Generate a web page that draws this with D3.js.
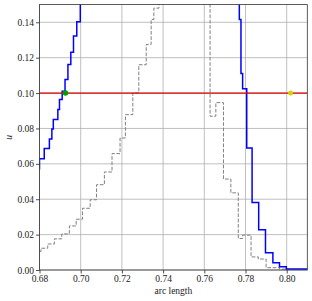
<!DOCTYPE html>
<html>
<head>
<meta charset="utf-8">
<script src="https://cdn.jsdelivr.net/npm/d3@7"></script>
<style>
  body { margin: 0; background: #fff; }
  text { font-family: "Liberation Serif", "DejaVu Serif", serif; }
</style>
</head>
<body>
<div id="chart"></div>
<script>
var width = 312, height = 301;
var plotLeft = 39.5, plotRight = 307.3, plotTop = 4.6, plotBottom = 270;

// step curves: jump position (arc length) and level after the jump
var blueArc = [0.6798, 0.6800, 0.6823, 0.6848, 0.6860, 0.6867, 0.6889, 0.6897, 0.6910, 0.6924, 0.6938, 0.6952, 0.6965, 0.6981, 0.6998,
               0.7770, 0.7778, 0.7786, 0.7806, 0.7832, 0.7864, 0.7897, 0.7933, 0.7965, 0.7998, 0.8110];
var blueU   = [0.0572, 0.0629, 0.0686, 0.0740, 0.0797, 0.0850, 0.0907, 0.0963, 0.1010, 0.1076, 0.1161, 0.1231, 0.1322, 0.1403, 0.1700,
               0.1416, 0.1110, 0.1024, 0.0690, 0.0381, 0.0227, 0.0098, 0.0041, 0.0019, 0.0006, 0.0006];

var grayArc = [0.6800, 0.6807, 0.6840, 0.6872, 0.6908, 0.6945, 0.6978, 0.7009, 0.7046, 0.7077, 0.7115, 0.7152, 0.7191, 0.7217, 0.7253,
               0.7282, 0.7318, 0.7342, 0.7355, 0.7380, 0.7628, 0.7656, 0.7693, 0.7729, 0.7765, 0.7786, 0.7827, 0.7862, 0.7900, 0.7965, 0.8000, 0.8110];
var grayU   = [0.0104, 0.0123, 0.0147, 0.0176, 0.0204, 0.0249, 0.0287, 0.0349, 0.0397, 0.0482, 0.0554, 0.0658, 0.0746, 0.0878, 0.1001,
               0.1160, 0.1275, 0.1416, 0.1480, 0.1700, 0.0869, 0.0946, 0.0514, 0.0436, 0.0178, 0.0197, 0.0074, 0.0062, 0.0013, 0.0005, 0.0000, 0.0000];

var level = 0.10;
var greenPt = [0.6926, 0.10];
var yellowPt = [0.8019, 0.10];

var xTicks = [0.68, 0.70, 0.72, 0.74, 0.76, 0.78, 0.80];
var yTicks = [0.00, 0.02, 0.04, 0.06, 0.08, 0.10, 0.12, 0.14];

var x = d3.scaleLinear().domain([0.68, 0.81]).range([plotLeft, plotRight]);
var y = d3.scaleLinear().domain([0, 0.15]).range([plotBottom, plotTop]);

var svg = d3.select("#chart").append("svg").attr("width", width).attr("height", height);

svg.append("clipPath").attr("id", "clip")
  .append("rect").attr("x", plotLeft).attr("y", plotTop)
  .attr("width", plotRight - plotLeft).attr("height", plotBottom - plotTop);

// grid
var grid = svg.append("g").attr("stroke", "#b0b0b0").attr("stroke-width", 0.8);
grid.selectAll(".gx").data(xTicks).enter().append("line")
  .attr("x1", function(d) { return x(d); }).attr("x2", function(d) { return x(d); })
  .attr("y1", plotTop).attr("y2", plotBottom);
grid.selectAll(".gy").data(yTicks).enter().append("line")
  .attr("y1", function(d) { return y(d); }).attr("y2", function(d) { return y(d); })
  .attr("x1", plotLeft).attr("x2", plotRight);

var plot = svg.append("g").attr("clip-path", "url(#clip)");

var line = d3.line()
  .x(function(d) { return x(d[0]); })
  .y(function(d) { return y(d[1]); })
  .curve(d3.curveStepAfter);

plot.append("path")
  .datum(d3.zip(grayArc, grayU))
  .attr("d", line)
  .attr("fill", "none")
  .attr("stroke", "#808080")
  .attr("stroke-width", 1)
  .attr("stroke-dasharray", "3.7,1.6");

plot.append("path")
  .datum(d3.zip(blueArc, blueU))
  .attr("d", line)
  .attr("fill", "none")
  .attr("stroke", "#0000ff")
  .attr("stroke-width", 1.5);

plot.append("line")
  .attr("x1", plotLeft).attr("x2", plotRight)
  .attr("y1", y(level)).attr("y2", y(level))
  .attr("stroke", "#e00000").attr("stroke-width", 1.2);

plot.append("circle").attr("cx", x(greenPt[0])).attr("cy", y(greenPt[1])).attr("r", 2.8).attr("fill", "#00a000");
plot.append("circle").attr("cx", x(yellowPt[0])).attr("cy", y(yellowPt[1])).attr("r", 2.5).attr("fill", "#d4d400");

// axes
var xAxis = d3.axisBottom(x).tickValues(xTicks).tickSize(3.5).tickPadding(2).tickFormat(d3.format(".2f"));
var yAxis = d3.axisLeft(y).tickValues(yTicks).tickSize(3.5).tickPadding(2).tickFormat(d3.format(".2f"));

var gx = svg.append("g").attr("transform", "translate(0," + plotBottom + ")").call(xAxis);
var gy = svg.append("g").attr("transform", "translate(" + plotLeft + ",0)").call(yAxis);
[gx, gy].forEach(function(g) {
  g.select(".domain").remove();
  g.selectAll(".tick line").attr("stroke", "#222").attr("stroke-width", 0.8);
  g.selectAll(".tick text").attr("fill", "#222").style("font-size", "9.5px")
    .style("font-family", "'Liberation Serif', 'DejaVu Serif', serif");
});

// frame
svg.append("rect")
  .attr("x", plotLeft).attr("y", plotTop)
  .attr("width", plotRight - plotLeft).attr("height", plotBottom - plotTop)
  .attr("fill", "none").attr("stroke", "#333").attr("stroke-width", 0.8);

svg.append("text")
  .attr("x", (plotLeft + plotRight) / 2).attr("y", 294)
  .attr("text-anchor", "middle").attr("fill", "#222")
  .style("font-size", "9.5px")
  .text("arc length");

svg.append("text")
  .attr("transform", "translate(12," + ((plotTop + plotBottom) / 2) + ") rotate(-90)")
  .attr("text-anchor", "middle").attr("fill", "#222")
  .style("font-size", "9.5px").style("font-style", "italic")
  .text("u");
</script>
</body>
</html>
